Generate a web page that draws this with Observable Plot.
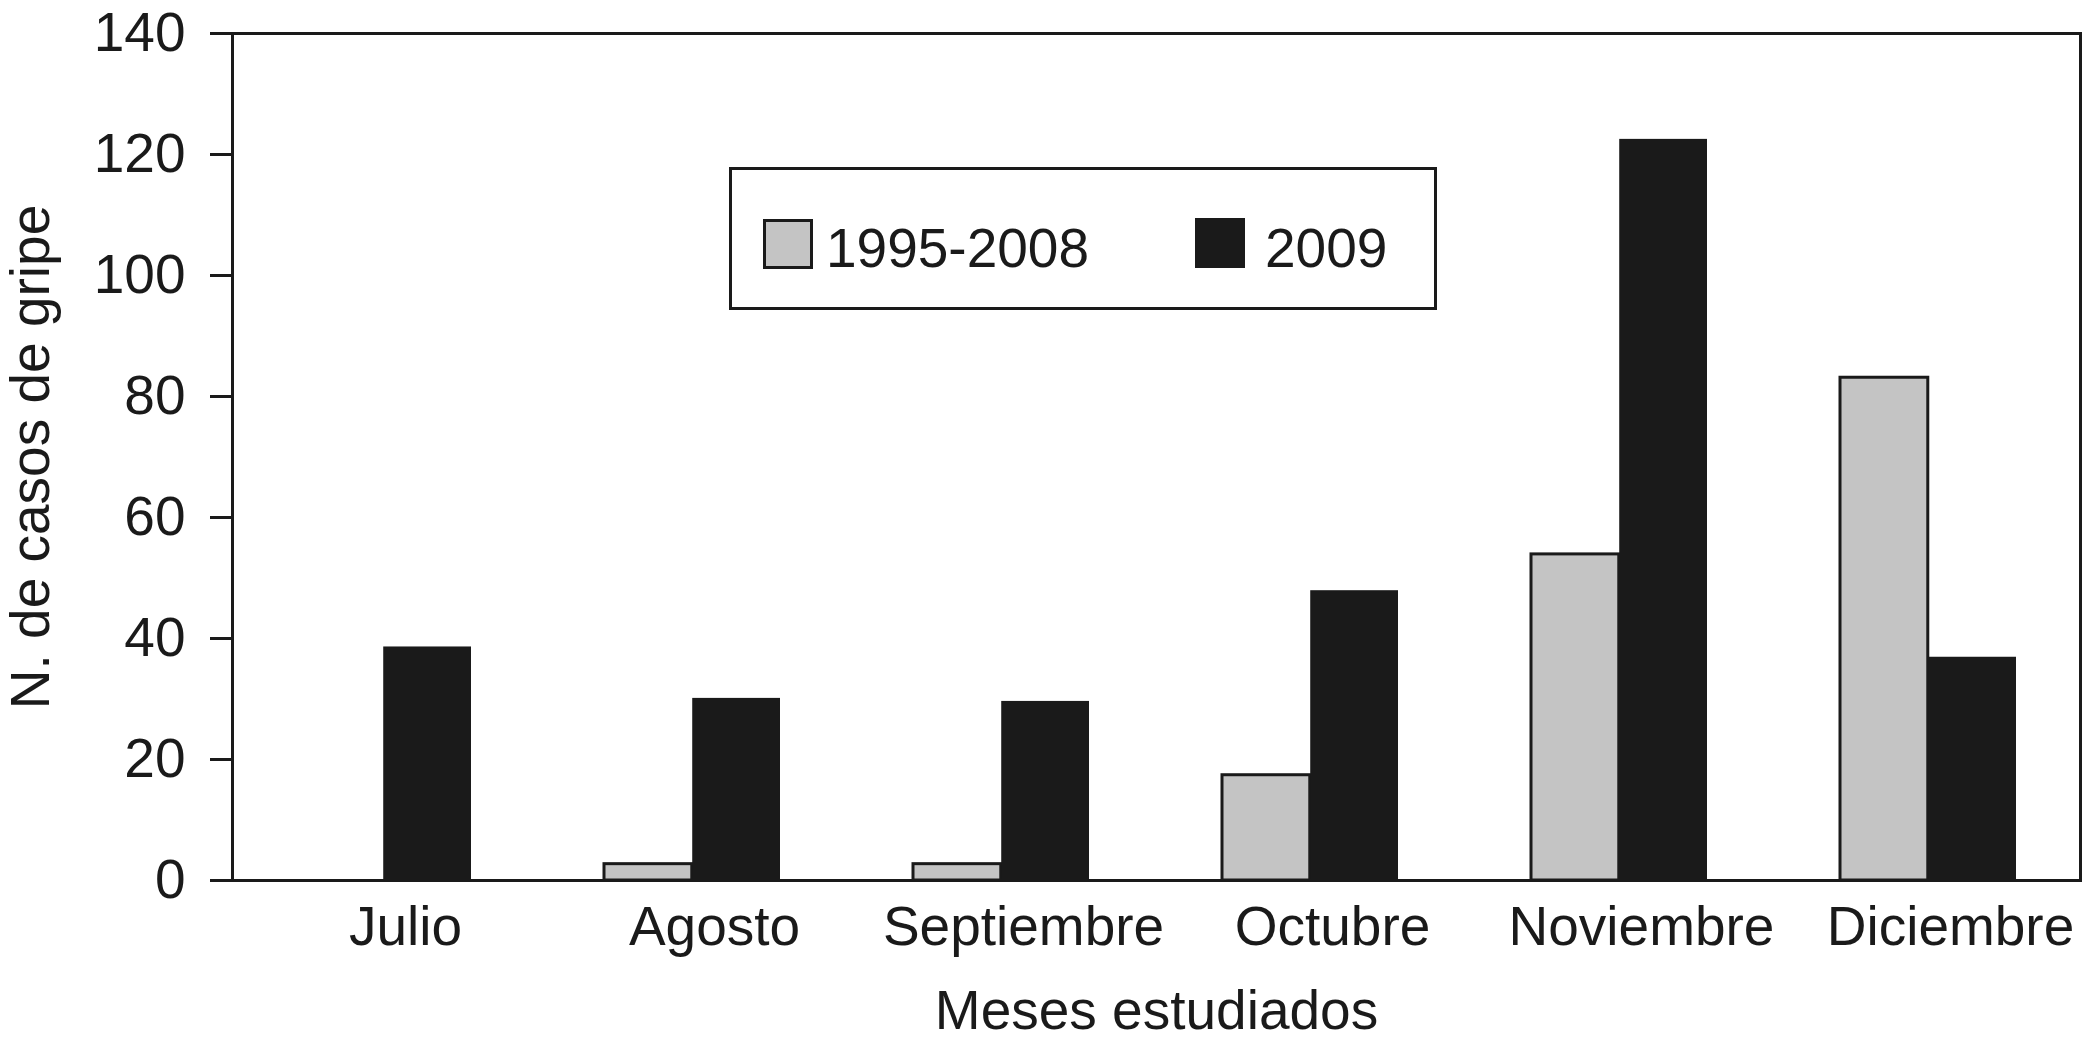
<!DOCTYPE html>
<html>
<head>
<meta charset="utf-8">
<script src="https://cdn.jsdelivr.net/npm/d3@7"></script>
<script src="https://cdn.jsdelivr.net/npm/@observablehq/plot@0.6"></script>
<style>
  body { margin: 0; background: #fff; }
  #wrap { position: relative; width: 2083px; height: 1047px; font-family: "Liberation Sans", Arial, sans-serif; color: #1a1a1a; }
  #legend { position: absolute; left: 729px; top: 167px; width: 708px; height: 143px; box-sizing: border-box; border: 3px solid #1a1a1a; background: #fff; }
  .sw { position: absolute; box-sizing: border-box; width: 50px; height: 50px; }
  .lt { position: absolute; font-size: 55px; line-height: 55px; white-space: nowrap; }
</style>
</head>
<body>
<div id="wrap"><div id="legend"></div></div>
<script>
const months = ["Julio", "Agosto", "Septiembre", "Octubre", "Noviembre", "Diciembre"];
const series = ["1995-2008", "2009"];
const values19952008 = [0, 2.7, 2.7, 17.4, 53.9, 83.1];
const values2009 = [38.6, 30.1, 29.6, 47.9, 122.5, 36.9];
const yTicks = [0, 20, 40, 60, 80, 100, 120, 140];
const colors = ["#c4c4c4", "#1a1a1a"];
const ink = "#1a1a1a";

const rows0 = months.map((m, i) => ({month: m, series: series[0], value: values19952008[i]}));
const rows1 = months.map((m, i) => ({month: m, series: series[1], value: values2009[i]}));

const W = 2083, H = 1047, mL = 232, mR = 3, mT = 33, mB = 167;
const pI = 0.43, pO = 0.2;
const step = (W - mL - mR) / (months.length - pI + 2 * pO);
const half = step * (1 - pI) / 2;

const chart = Plot.plot({
  width: W, height: H,
  marginLeft: mL, marginRight: mR, marginTop: mT, marginBottom: mB,
  style: {fontFamily: '"Liberation Sans", Arial, sans-serif', fontSize: "55px", color: ink, background: "#fff"},
  x: {domain: months, paddingInner: pI, paddingOuter: pO, label: null},
  y: {domain: [0, 140], label: null},
  marks: [
    Plot.barY(rows0, {x: "month", y: "value", fill: colors[0], stroke: ink, strokeWidth: 3, insetLeft: 0, insetRight: half}),
    Plot.barY(rows1, {x: "month", y: "value", fill: colors[1], insetLeft: half, insetRight: 0}),
    Plot.frame({stroke: ink, strokeWidth: 3}),
    Plot.axisY({ticks: yTicks, tickSize: 22, tickPadding: 25, strokeWidth: 3, fontSize: 55, fill: ink, stroke: ink,
      label: "N. de casos de gripe", labelAnchor: "center", labelOffset: 223, labelArrow: "none"}),
    Plot.axisX({tickSize: 0, tickPadding: 25, dx: 22, fontSize: 55, fill: ink,
      label: "Meses estudiados", labelAnchor: "center", labelOffset: 148, labelArrow: "none"})
  ]
});
document.getElementById("wrap").prepend(chart);

// legend
const legend = document.getElementById("legend");
const items = [
  {swL: 31, swT: 49, txL: 94, txT: 51},
  {swL: 463, swT: 48, txL: 533, txT: 51}
];
series.forEach((s, i) => {
  const sw = document.createElement("div");
  sw.className = "sw";
  sw.style.left = items[i].swL + "px";
  sw.style.top = items[i].swT + "px";
  sw.style.background = colors[i];
  sw.style.border = "3px solid " + ink;
  legend.appendChild(sw);
  const t = document.createElement("div");
  t.className = "lt";
  t.style.left = items[i].txL + "px";
  t.style.top = items[i].txT + "px";
  t.textContent = s;
  legend.appendChild(t);
});
</script>
</body>
</html>
